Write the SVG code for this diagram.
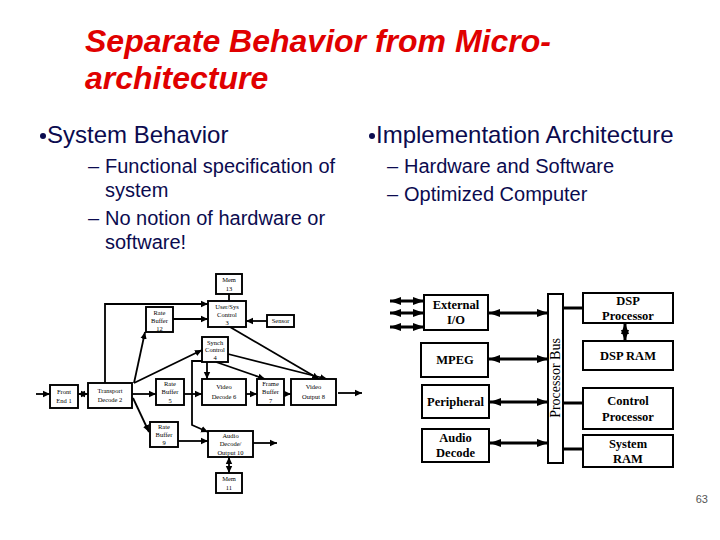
<svg xmlns="http://www.w3.org/2000/svg" width="720" height="540" viewBox="0 0 720 540">
<style>
.title{font-family:"Liberation Sans",Arial,sans-serif;font-size:32px;font-weight:bold;font-style:italic;fill:#e00000}
.b1{font-family:"Liberation Sans",Arial,sans-serif;font-size:24px;fill:#0b0b4f}
.b2{font-family:"Liberation Sans",Arial,sans-serif;font-size:20px;fill:#0b0b4f}
.sb{fill:#fff;stroke:#000;stroke-width:1.9}
.st{font-family:"Liberation Serif","Times New Roman",serif;font-size:6.5px;fill:#000;text-anchor:middle}
.rb{fill:#fff;stroke:#000;stroke-width:2}
.rt{font-family:"Liberation Serif","Times New Roman",serif;font-size:12.5px;font-weight:bold;fill:#000;text-anchor:middle}
.sc{fill:none;stroke:#000;stroke-width:1.8}
.rc{fill:none;stroke:#000;stroke-width:3}
</style>
<defs>
<marker id="sa" markerUnits="userSpaceOnUse" markerWidth="8" markerHeight="8" refX="7" refY="4" orient="auto-start-reverse"><path d="M0,0.8 L7,4 L0,7.2 Z" fill="#000"/></marker>
<marker id="ra" markerUnits="userSpaceOnUse" markerWidth="12" markerHeight="10" refX="11" refY="5" orient="auto-start-reverse"><path d="M0,1 L11,5 L0,9 Z" fill="#000"/></marker>
</defs>
<rect width="720" height="540" fill="#fff"/>
<text class="title" x="85" y="52">Separate Behavior from Micro-</text>
<text class="title" x="85" y="89">architecture</text>
<g id="text-left">
<circle cx="43" cy="136" r="3" fill="#0b0b4f"/>
<text class="b1" x="47" y="143">System Behavior</text>
<text class="b2" x="88" y="173">–</text>
<text class="b2" x="105" y="173">Functional specification of</text>
<text class="b2" x="105" y="197">system</text>
<text class="b2" x="88" y="225">–</text>
<text class="b2" x="105" y="225">No notion of hardware or</text>
<text class="b2" x="105" y="249">software!</text>
</g>
<g id="text-right">
<circle cx="372" cy="136" r="3" fill="#0b0b4f"/>
<text class="b1" x="376" y="143">Implementation Architecture</text>
<text class="b2" x="387" y="173">–</text>
<text class="b2" x="404" y="173">Hardware and Software</text>
<text class="b2" x="387" y="201">–</text>
<text class="b2" x="404" y="201">Optimized Computer</text>
</g>
<g id="connectors">
<path class="sc" d="M36,394 L50,394" marker-end="url(#sa)"/>
<path class="sc" d="M78,394 L88,394" marker-start="url(#sa)" marker-end="url(#sa)"/>
<path class="sc" d="M132,394 L156,394" marker-end="url(#sa)"/>
<path class="sc" d="M184,394 L202,394" marker-end="url(#sa)"/>
<path class="sc" d="M246,394 L257,394" marker-end="url(#sa)"/>
<path class="sc" d="M284,394 L291,394" marker-end="url(#sa)"/>
<path class="sc" d="M338,393 L362,393" marker-end="url(#sa)"/>
<path class="sc" d="M133,398 L149,432" marker-end="url(#sa)"/>
<path class="sc" d="M178,441 L208,441" marker-end="url(#sa)"/>
<path class="sc" d="M253,443 L277,443" marker-end="url(#sa)"/>
<path class="sc" d="M229,457 L229,473" marker-start="url(#sa)" marker-end="url(#sa)"/>
<path class="sc" d="M105,383 L105,304 L208,304" marker-end="url(#sa)"/>
<path class="sc" d="M173,319 L208,319" marker-end="url(#sa)"/>
<path class="sc" d="M267,321 L246,321" marker-end="url(#sa)"/>
<path class="sc" d="M229,294 L229,301"/>
<path class="sc" d="M134,383 L145,332" marker-end="url(#sa)"/>
<path class="sc" d="M134,383 L202,350" marker-end="url(#sa)"/>
<path class="sc" d="M207,362 L207,379" marker-end="url(#sa)"/>
<path class="sc" d="M216,362 L265,379" marker-end="url(#sa)"/>
<path class="sc" d="M228,354 L327,379" marker-end="url(#sa)"/>
<path class="sc" d="M230,327 L319,379" marker-end="url(#sa)"/>
<path class="sc" d="M202,361 L192,361 L192,425 L208,432" marker-end="url(#sa)"/>
<path class="rc" d="M390,301 L424,301" marker-start="url(#ra)" marker-end="url(#ra)"/>
<path class="rc" d="M390,313 L424,313" marker-start="url(#ra)" marker-end="url(#ra)"/>
<path class="rc" d="M390,327 L424,327" marker-start="url(#ra)" marker-end="url(#ra)"/>
<path class="rc" d="M489,313 L548,313" marker-start="url(#ra)" marker-end="url(#ra)"/>
<path class="rc" d="M489,359 L548,359" marker-start="url(#ra)" marker-end="url(#ra)"/>
<path class="rc" d="M490,402 L548,402" marker-start="url(#ra)" marker-end="url(#ra)"/>
<path class="rc" d="M490,443 L548,443" marker-start="url(#ra)" marker-end="url(#ra)"/>
<path class="rc" d="M563,308 L583,308"/>
<path class="rc" d="M625,323 L625,341" marker-start="url(#ra)" marker-end="url(#ra)"/>
<path class="rc" d="M563,403 L583,403"/>
<path class="rc" d="M563,449 L583,449"/>
</g>
<g id="mem13"><rect class="sb" x="216" y="274" width="26" height="20"/><text class="st" x="229" y="282">Mem</text><text class="st" x="229" y="291">13</text></g>
<g id="usersys3"><rect class="sb" x="208" y="301" width="38" height="26"/><text class="st" x="227" y="309">User/Sys</text><text class="st" x="227" y="317">Control</text><text class="st" x="227" y="325">3</text></g>
<g id="ratebuf12"><rect class="sb" x="146" y="307" width="27" height="25"/><text class="st" x="159.5" y="315">Rate</text><text class="st" x="159.5" y="323">Buffer</text><text class="st" x="159.5" y="331">12</text></g>
<g id="sensor"><rect class="sb" x="267" y="315" width="27" height="12"/><text class="st" x="280.5" y="323">Sensor</text></g>
<g id="synch4"><rect class="sb" x="202" y="337" width="26" height="25"/><text class="st" x="215" y="345">Synch</text><text class="st" x="215" y="352">Control</text><text class="st" x="215" y="360">4</text></g>
<g id="frontend1"><rect class="sb" x="50" y="385" width="28" height="23"/><text class="st" x="64" y="394">Front</text><text class="st" x="64" y="403">End 1</text></g>
<g id="transport2"><rect class="sb" x="88" y="383" width="44" height="25"/><text class="st" x="110" y="393">Transport</text><text class="st" x="110" y="402">Decode 2</text></g>
<g id="ratebuf5"><rect class="sb" x="156" y="379" width="28" height="26"/><text class="st" x="170" y="386">Rate</text><text class="st" x="170" y="394">Buffer</text><text class="st" x="170" y="403">5</text></g>
<g id="videodec6"><rect class="sb" x="202" y="379" width="44" height="26"/><text class="st" x="224" y="389">Video</text><text class="st" x="224" y="399">Decode 6</text></g>
<g id="framebuf7"><rect class="sb" x="257" y="379" width="27" height="26"/><text class="st" x="270.5" y="386">Frame</text><text class="st" x="270.5" y="394">Buffer</text><text class="st" x="270.5" y="403">7</text></g>
<g id="videoout8"><rect class="sb" x="291" y="379" width="45" height="26"/><text class="st" x="313.5" y="389">Video</text><text class="st" x="313.5" y="399">Output 8</text></g>
<g id="ratebuf9"><rect class="sb" x="150" y="422" width="28" height="25"/><text class="st" x="164" y="429">Rate</text><text class="st" x="164" y="437">Buffer</text><text class="st" x="164" y="445">9</text></g>
<g id="audio10"><rect class="sb" x="208" y="431" width="45" height="26"/><text class="st" x="230.5" y="438">Audio</text><text class="st" x="230.5" y="446">Decode/</text><text class="st" x="230.5" y="455">Output 10</text></g>
<g id="mem11"><rect class="sb" x="216" y="473" width="26" height="20"/><text class="st" x="229" y="481">Mem</text><text class="st" x="229" y="490">11</text></g>
<g id="bus"><rect class="rb" x="548" y="294" width="15" height="169"/><text transform="translate(560,378) rotate(-90)" text-anchor="middle" font-family="Liberation Serif, Times New Roman, serif" font-size="14">Processor Bus</text></g>
<g id="extio"><rect class="rb" x="424" y="295" width="64" height="35"/><text class="rt" x="456" y="309">External</text><text class="rt" x="456" y="324">I/O</text></g>
<g id="mpeg"><rect class="rb" x="421" y="343" width="67" height="34"/><text class="rt" x="455" y="364">MPEG</text></g>
<g id="peripheral"><rect class="rb" x="422" y="385" width="67" height="33"/><text class="rt" x="455.5" y="406">Peripheral</text></g>
<g id="audiodec"><rect class="rb" x="422" y="429" width="67" height="33"/><text class="rt" x="455.5" y="442">Audio</text><text class="rt" x="455.5" y="457">Decode</text></g>
<g id="dspproc"><rect class="rb" x="583" y="293" width="90" height="30"/><text class="rt" x="628" y="305">DSP</text><text class="rt" x="628" y="320">Processor</text></g>
<g id="dspram"><rect class="rb" x="583" y="341" width="90" height="29"/><text class="rt" x="628" y="360">DSP RAM</text></g>
<g id="ctrlproc"><rect class="rb" x="583" y="388" width="90" height="41"/><text class="rt" x="628" y="405">Control</text><text class="rt" x="628" y="421">Processor</text></g>
<g id="sysram"><rect class="rb" x="583" y="435" width="90" height="32"/><text class="rt" x="628" y="448">System</text><text class="rt" x="628" y="463">RAM</text></g>
<text x="708" y="503" text-anchor="end" font-family="Liberation Sans, Arial, sans-serif" font-size="11" fill="#555">63</text>
</svg>
